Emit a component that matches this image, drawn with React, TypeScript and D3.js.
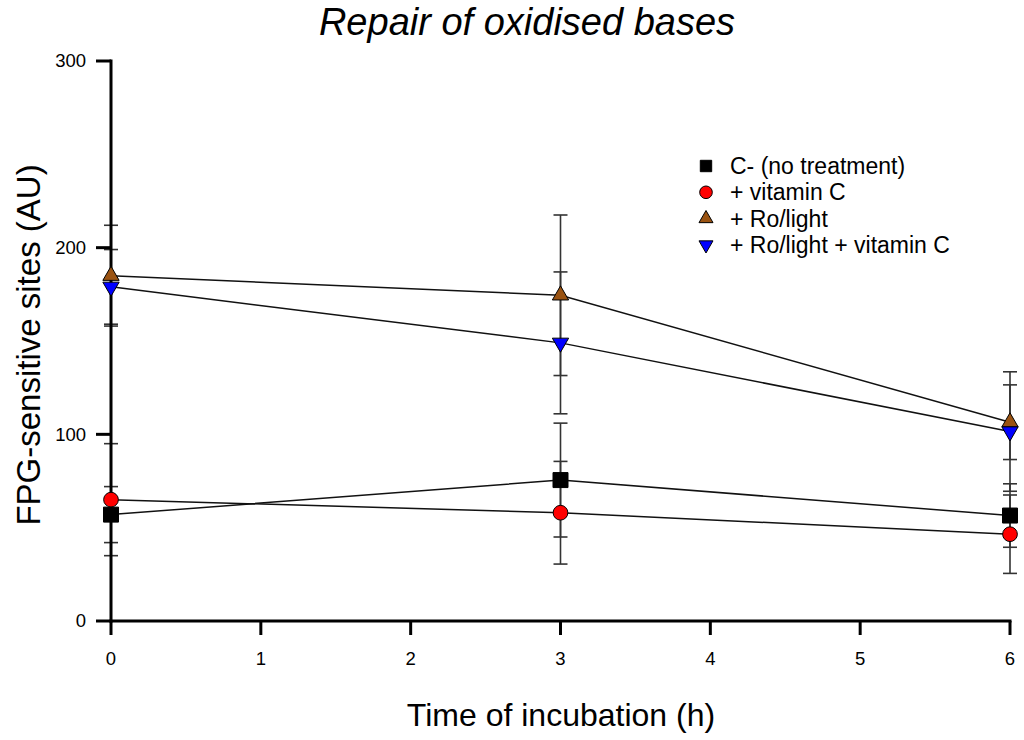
import React from "react";
import * as d3 from "d3";

// incubation times (h)
const times = [0, 3, 6];

const seriesNames = ["C- (no treatment)", "+ vitamin C", "+ Ro/light", "+ Ro/light + vitamin C"];
const controlValues = [57, 75.5, 56.5];
const controlErrors = [15, 30.5, 17];
const vitCValues = [65, 58, 46.5];
const vitCErrors = [30, 27.5, 21];
const roLightValues = [185, 174.5, 106.5];
const roLightErrors = [27, 43, 20];
const roLightVitCValues = [179, 149, 101.5];
const roLightVitCErrors = [20, 38, 32];

const xTicks = [0, 1, 2, 3, 4, 5, 6];
const yTicks = [0, 100, 200, 300];

const WIDTH = 1024;
const HEIGHT = 740;
const FONT = "'Liberation Sans', Arial, sans-serif";

type Series = {
  name: string;
  values: number[];
  errors: number[];
  symbol: d3.SymbolType;
  fill: string;
  flip?: boolean;
  size: number;
  legendSize: number;
};

const series: Series[] = [
  { name: seriesNames[0], values: controlValues, errors: controlErrors, symbol: d3.symbolSquare, fill: "#000000", size: 225, legendSize: 130 },
  { name: seriesNames[1], values: vitCValues, errors: vitCErrors, symbol: d3.symbolCircle, fill: "#ff0000", size: 170, legendSize: 125 },
  { name: seriesNames[2], values: roLightValues, errors: roLightErrors, symbol: d3.symbolTriangle, fill: "#9a5312", size: 115, legendSize: 85 },
  { name: seriesNames[3], values: roLightVitCValues, errors: roLightVitCErrors, symbol: d3.symbolTriangle, fill: "#0000ff", flip: true, size: 115, legendSize: 85 },
];

export default function App() {
  const x = d3.scaleLinear().domain([0, 6]).range([111, 1010]);
  const y = d3.scaleLinear().domain([0, 300]).range([621, 61]);

  const line = d3
    .line<number>()
    .x((_, i) => x(times[i]))
    .y((d) => y(d));

  const capHalf = 7;

  return (
    <svg
      width={WIDTH}
      height={HEIGHT}
      style={{ position: "absolute", left: 0, top: 0, background: "#fff" }}
      fontFamily={FONT}
    >
      {/* title */}
      <text x={527} y={35} textAnchor="middle" fontSize={38} fontStyle="italic">
        Repair of oxidised bases
      </text>

      {/* connecting lines */}
      {series.map((s) => (
        <path key={"l" + s.name} d={line(s.values) || ""} fill="none" stroke="#111" strokeWidth={1.5} />
      ))}

      {/* error bars */}
      {series.map((s) =>
        s.values.map((v, i) => {
          const cx = x(times[i]);
          const top = y(v + s.errors[i]);
          const bot = y(v - s.errors[i]);
          return (
            <g key={"e" + s.name + i} stroke="#333" strokeWidth={1.6}>
              <line x1={cx} x2={cx} y1={top} y2={bot} />
              <line x1={cx - capHalf} x2={cx + capHalf} y1={top} y2={top} />
              <line x1={cx - capHalf} x2={cx + capHalf} y1={bot} y2={bot} />
            </g>
          );
        })
      )}

      {/* axes */}
      <g stroke="#000" strokeWidth={3} fill="none">
        <line x1={x(0)} x2={x(0)} y1={y(300) - 1.5} y2={y(0) + 1.5} />
        <line x1={x(0) - 1.5} x2={x(6) + 1.5} y1={y(0)} y2={y(0)} />
        {yTicks.map((t) => (
          <line key={"yt" + t} x1={x(0) - 15} x2={x(0)} y1={y(t)} y2={y(t)} />
        ))}
        {xTicks.map((t) => (
          <line key={"xt" + t} x1={x(t)} x2={x(t)} y1={y(0)} y2={y(0) + 14} />
        ))}
      </g>
      {yTicks.map((t) => (
        <text key={"yl" + t} x={86} y={y(t)} dy="0.35em" textAnchor="end" fontSize={18.5}>
          {t}
        </text>
      ))}
      {xTicks.map((t) => (
        <text key={"xl" + t} x={x(t)} y={665} textAnchor="middle" fontSize={18.5}>
          {t}
        </text>
      ))}

      {/* axis titles */}
      <text x={561} y={726} textAnchor="middle" fontSize={32}>
        Time of incubation (h)
      </text>
      <text
        transform={`translate(40, ${345}) rotate(-90)`}
        textAnchor="middle"
        fontSize={33}
      >
        FPG-sensitive sites (AU)
      </text>

      {/* markers */}
      {series.map((s) =>
        s.values.map((v, i) => (
          <path
            key={"m" + s.name + i}
            d={d3.symbol().type(s.symbol).size(s.size)() || ""}
            transform={`translate(${x(times[i])}, ${y(v)})${s.flip ? " rotate(180)" : ""}`}
            fill={s.fill}
            stroke="#000"
            strokeWidth={1}
          />
        ))
      )}

      {/* legend */}
      {series.map((s, i) => {
        const ly = 166 + i * 26.3;
        return (
          <g key={"lg" + s.name}>
            <path
              d={d3.symbol().type(s.symbol).size(s.legendSize)() || ""}
              transform={`translate(706, ${ly})${s.flip ? " rotate(180)" : ""}`}
              fill={s.fill}
              stroke="#000"
              strokeWidth={1}
            />
            <text x={730} y={ly} dy="0.35em" fontSize={23}>
              {s.name}
            </text>
          </g>
        );
      })}
    </svg>
  );
}
